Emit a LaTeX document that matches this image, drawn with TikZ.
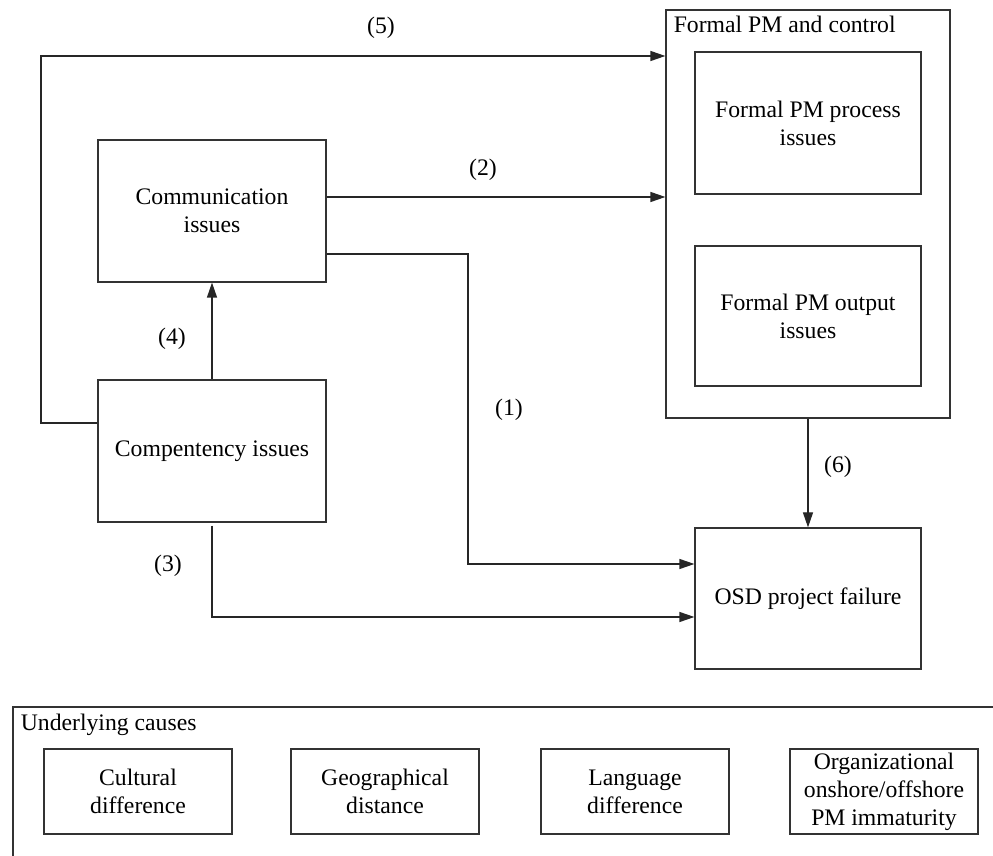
\documentclass[tikz,border=0pt]{standalone}
\usepackage{fontspec}
\setmainfont{Liberation Serif}
\usetikzlibrary{arrows.meta}

\begin{document}
\begin{tikzpicture}[x=0.5pt, y=-0.5pt,
    nodes = {font=\fontsize{11.85}{14}\selectfont, align=center},
    box/.style = {draw=black!80, line width=0.6pt, inner sep=0pt},
    cause/.style = {box, minimum width=94pt, minimum height=42.5pt},
    conn/.style = {draw=black!85, line width=0.6pt,
      -{Triangle[length=7.5pt,width=5pt]}}]
  \useasboundingbox (0,0) rectangle (993,856);

  % left column
  \node[box, minimum width=114pt, minimum height=71pt] (comm) at (212,211) {Communication\\issues};
  \node[box, minimum width=114pt, minimum height=71pt] (comp) at (212,451) {Compentency issues};

  % formal PM block
  \node[box, minimum width=142pt, minimum height=204pt] (formal) at (808,214) {};
  \node[anchor=west, inner sep=0pt] (ftitle) at ([xshift=4pt,yshift=-7.5pt]formal.north west) {Formal PM and control};
  \node[box, minimum width=113pt, minimum height=71pt] (proc) at (808,123) {Formal PM process\\issues};
  \node[box, minimum width=113pt, minimum height=70pt] (outp) at (808,316) {Formal PM output\\issues};

  \node[box, minimum width=113pt, minimum height=70.5pt] (osd) at (808,598.5) {OSD project failure};

  % connectors
  \draw[conn] (comm.east |- 0,254) -- (468,254) |- (osd.west |- 0,564);   % (1)
  \draw[conn] (comm.east |- 0,197) -- (formal.west |- 0,197);             % (2)
  \draw[conn] ([yshift=-1.5pt]comp.south) |- (osd.west |- 0,617);         % (3)
  \draw[conn] (comp) -- (comm);                                           % (4)
  \draw[conn] (comp.west |- 0,423) -- (41,423) |- (formal.west |- 0,56);  % (5)
  \draw[conn] (formal) -- (osd);                                          % (6)

  \node (l1) at (509,410) {(1)};
  \node (l2) at (483,170) {(2)};
  \node (l3) at (168,566) {(3)};
  \node (l4) at (172,339) {(4)};
  \node (l5) at (381,28) {(5)};
  \node (l6) at (838,467) {(6)};

  % underlying causes (right and bottom edges run off the page)
  \node[box, minimum width=493.5pt, minimum height=79pt] (causes) at (506.5,786) {};
  \node[anchor=west, inner sep=0pt] (ctitle) at ([xshift=4pt,yshift=-9pt]causes.north west) {Underlying causes};
  \node[cause] (cult) at (138,791.5) {Cultural\\difference};
  \node[cause] (geo)  at (385,791.5) {Geographical\\distance};
  \node[cause] (lang) at (635,791.5) {Language\\difference};
  \node[cause] (org)  at (884,791.5) {Organizational\\onshore/offshore\\PM immaturity};
\end{tikzpicture}
\end{document}
